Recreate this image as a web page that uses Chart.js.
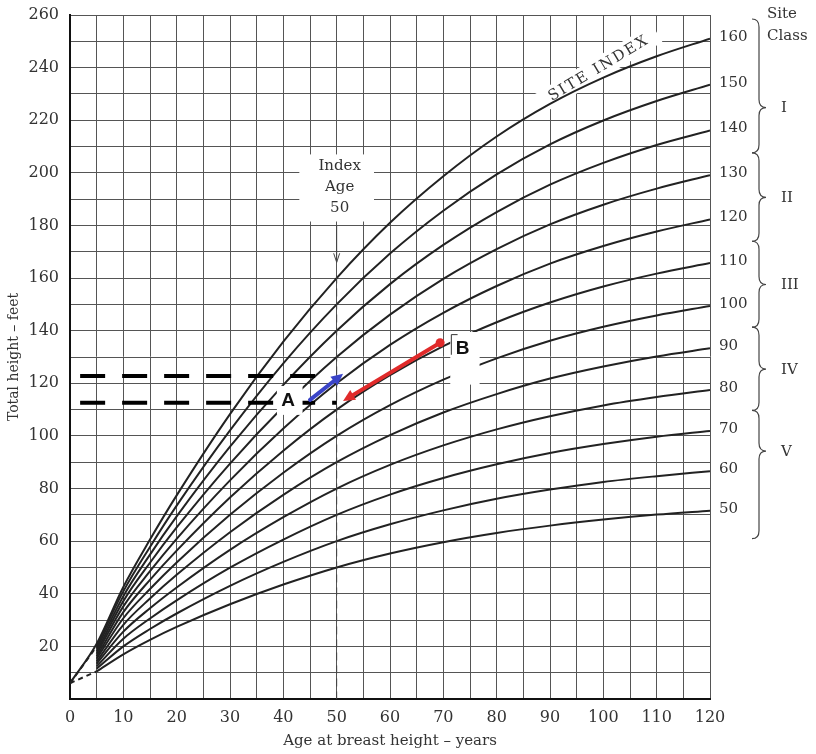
<!DOCTYPE html>
<html>
<head>
<meta charset="utf-8">
<script src="https://cdn.jsdelivr.net/npm/chart.js"></script>
<style>
  html, body { margin: 0; padding: 0; background: #fff; }
  #wrap { width: 816px; height: 754px; position: relative; }
</style>
</head>
<body>
<div id="wrap"><canvas id="siteChart"></canvas></div>
<script>
// ages at breast height (years)
const ages = [0, 5, 10, 15, 20, 30, 40, 50, 60, 70, 80, 90, 100, 110, 120];
// total height (feet) for each site index curve
const si50  = [null, 10.5, 17.0, 22.5, 27.4, 36.0,  43.5,  50,  55.3,  59.6,  63.1,  65.9,  68.2,  70.1,  71.6];
const si60  = [null, 11.5, 20.0, 26.6, 32.5, 43.0,  52.1,  60,  66.4,  71.7,  76.1,  79.6,  82.5,  84.7,  86.6];
const si70  = [null, 12.4, 22.9, 30.6, 37.5, 49.9,  60.6,  70,  77.7,  84.0,  89.2,  93.5,  96.9,  99.7,  101.9];
const si80  = [null, 13.4, 25.6, 34.5, 42.4, 56.7,  69.1,  80,  89.0,  96.4,  102.5, 107.5, 111.6, 114.8, 117.5];
const si90  = [null, 14.3, 28.2, 38.2, 47.2, 63.4,  77.6,  90,  100.3, 108.9, 115.9, 121.8, 126.4, 130.2, 133.3];
const si100 = [null, 15.3, 30.7, 41.8, 51.9, 70.0,  86.0,  100, 111.7, 121.4, 129.5, 136.2, 141.5, 145.8, 149.4];
const si110 = [null, 16.2, 33.0, 45.3, 56.4, 76.6,  94.4,  110, 123.1, 134.1, 143.2, 150.7, 156.8, 161.7, 165.7];
const si120 = [null, 17.2, 35.2, 48.6, 60.9, 83.1,  102.8, 120, 134.6, 146.8, 157.0, 165.5, 172.2, 177.7, 182.3];
const si130 = [null, 18.1, 37.2, 51.8, 65.2, 89.5,  111.1, 130, 146.1, 159.7, 171.0, 180.4, 187.9, 194.0, 199.1];
const si140 = [null, 19.1, 39.1, 54.9, 69.4, 95.9,  119.4, 140, 157.7, 172.6, 185.1, 195.5, 203.8, 210.6, 216.1];
const si150 = [null, 20.0, 40.9, 57.8, 73.5, 102.1, 127.6, 150, 169.3, 185.6, 199.4, 210.8, 219.9, 227.3, 233.5];
const si160 = [6,    21.0, 42.6, 60.6, 77.4, 108.3, 135.8, 160, 181.0, 198.7, 213.8, 226.2, 236.2, 244.3, 251];

const curves = [si50, si60, si70, si80, si90, si100, si110, si120, si130, si140, si150, si160];
const siteIndex = [50, 60, 70, 80, 90, 100, 110, 120, 130, 140, 150, 160];

// dashed lead-in lines from the origin
const dashAges = [0, 5];
const dashLow = [6, 10.5];
const dashHigh = [6, 20];

// site classes (members by site index)
const siteClasses = ['I', 'II', 'III', 'IV', 'V'];
const classMembers = [[160, 150, 140], [130, 120], [110, 100], [90, 80], [70, 60, 50]];

// example points: A (index age line) and B
const lineA1 = 122.8, lineA2 = 112.6;
const pointA = [45, 113.7], arrowA = [51.2, 123.6];
const pointB = [69.4, 135.4], arrowB = [51.2, 113.3];

const SERIF = '"DejaVu Serif", serif';
const pts = (xs, ys) => xs.map((a, i) => ({ x: a, y: ys[i] }));

const datasets = curves.map((c, i) => ({
  label: 'SI ' + siteIndex[i],
  data: pts(ages, c),
  borderColor: '#222',
  borderWidth: 2,
  pointRadius: 0,
  cubicInterpolationMode: 'monotone',
  spanGaps: false
}));
datasets.push({ label: 'lead low', data: pts(dashAges, dashLow), borderColor: '#222', borderWidth: 2, borderDash: [5, 4], pointRadius: 0 });
datasets.push({ label: 'lead high', data: pts(dashAges, dashHigh), borderColor: '#222', borderWidth: 2, borderDash: [5, 4], pointRadius: 0 });

function arrow(ctx, x1, y1, x2, y2, color) {
  const ang = Math.atan2(y2 - y1, x2 - x1);
  ctx.strokeStyle = color; ctx.fillStyle = color;
  ctx.lineWidth = 4; ctx.lineCap = 'round';
  ctx.beginPath(); ctx.moveTo(x1, y1); ctx.lineTo(x2 - 6 * Math.cos(ang), y2 - 6 * Math.sin(ang)); ctx.stroke();
  ctx.beginPath();
  ctx.moveTo(x2, y2);
  ctx.lineTo(x2 - 13 * Math.cos(ang - 0.45), y2 - 13 * Math.sin(ang - 0.45));
  ctx.lineTo(x2 - 13 * Math.cos(ang + 0.45), y2 - 13 * Math.sin(ang + 0.45));
  ctx.closePath(); ctx.fill();
}

function brace(ctx, x, top, bottom, tip) {
  const w = 7;
  ctx.beginPath();
  ctx.moveTo(x - w, top);
  ctx.quadraticCurveTo(x, top, x, top + 8);
  ctx.lineTo(x, tip - 8);
  ctx.quadraticCurveTo(x, tip, x + w, tip);
  ctx.quadraticCurveTo(x, tip, x, tip + 8);
  ctx.lineTo(x, bottom - 8);
  ctx.quadraticCurveTo(x, bottom, x - w, bottom);
  ctx.stroke();
}

// position of the rotated "SITE INDEX" label
function siteLabelPos(x, y) {
  return [x.getPixelForValue(99) + 1, y.getPixelForValue(235.5) - 11];
}

const decor = {
  id: 'decor',
  beforeDatasetsDraw(chart) {
    const { ctx, scales: { x, y } } = chart;
    ctx.save();
    // white box behind "Index Age 50"
    ctx.fillStyle = '#fff';
    const bx1 = x.getPixelForValue(43), bx2 = x.getPixelForValue(57);
    const by1 = y.getPixelForValue(207), by2 = y.getPixelForValue(181.5);
    ctx.fillRect(bx1, by1, bx2 - bx1, by2 - by1);
    // white band behind "SITE INDEX"
    const [sx, sy] = siteLabelPos(x, y);
    ctx.translate(sx, sy);
    ctx.rotate(-0.54);
    ctx.fillRect(-68, -11, 136, 21);
    ctx.restore();
  },
  afterDatasetsDraw(chart) {
    const { ctx, chartArea: ca, scales: { x, y } } = chart;
    ctx.save();
    ctx.fillStyle = '#333';
    ctx.textAlign = 'center';
    ctx.textBaseline = 'middle';
    ctx.font = '15px ' + SERIF;
    const x50 = x.getPixelForValue(50);
    ctx.fillText('Index', x50 + 3, y.getPixelForValue(202.5));
    ctx.fillText('Age', x50 + 3, y.getPixelForValue(194.5));
    ctx.fillText('50', x50 + 3, y.getPixelForValue(186.5));

    // index age marker line
    ctx.strokeStyle = '#444';
    ctx.lineWidth = 1;
    ctx.beginPath();
    ctx.moveTo(x50, y.getPixelForValue(180)); ctx.lineTo(x50, y.getPixelForValue(166)); ctx.stroke();
    ctx.beginPath();
    const ay = y.getPixelForValue(166);
    ctx.moveTo(x50 - 3, ay - 9); ctx.lineTo(x50, ay); ctx.lineTo(x50 + 3, ay - 9); ctx.stroke();
    ctx.setLineDash([8, 5]);
    ctx.beginPath();
    ctx.moveTo(x50, y.getPixelForValue(161)); ctx.lineTo(x50, ca.bottom); ctx.stroke();
    ctx.setLineDash([]);

    // SITE INDEX label
    const [sx, sy] = siteLabelPos(x, y);
    ctx.save();
    ctx.translate(sx, sy);
    ctx.rotate(-0.54);
    ctx.font = '15px ' + SERIF;
    ctx.letterSpacing = '2px';
    ctx.fillStyle = '#333';
    ctx.fillText('SITE INDEX', 0, 0);
    ctx.restore();

    // site index numbers at curve ends
    ctx.textAlign = 'left';
    ctx.font = '15px ' + SERIF;
    const endY = {};
    curves.forEach((c, i) => {
      const py = y.getPixelForValue(c[c.length - 1]);
      endY[siteIndex[i]] = py;
      ctx.fillText(String(siteIndex[i]), ca.right + 9, py - 2);
    });

    // site class braces
    ctx.strokeStyle = '#444';
    ctx.lineWidth = 1.2;
    const bxp = ca.right + 49;
    classMembers.forEach((m, i) => {
      const prev = classMembers[i - 1], next = classMembers[i + 1];
      const topEdge = i === 0 ? ca.top + 4 : (endY[m[0]] + endY[prev[prev.length - 1]]) / 2;
      const botEdge = !next ? endY[m[m.length - 1]] + 28 : (endY[m[m.length - 1]] + endY[next[0]]) / 2;
      let tip;
      if (m.length === 3) tip = i === 0 ? (endY[m[1]] + endY[m[2]]) / 2 : (endY[m[0]] + endY[m[1]]) / 2;
      else tip = (endY[m[0]] + endY[m[1]]) / 2;
      brace(ctx, bxp, topEdge, botEdge, tip);
      ctx.fillStyle = '#333';
      ctx.fillText(siteClasses[i], bxp + 22, tip + 1);
    });
    ctx.fillText('Site', bxp + 8, 14);
    ctx.fillText('Class', bxp + 8, 36);

    // A and B example
    ctx.fillStyle = '#fff';
    const ax1 = x.getPixelForValue(38.8), ax2 = x.getPixelForValue(43.6);
    ctx.fillRect(ax1, y.getPixelForValue(119), ax2 - ax1, y.getPixelForValue(108) - y.getPixelForValue(119));
    const bxa = x.getPixelForValue(71.3), bxb = x.getPixelForValue(76.8);
    ctx.fillRect(bxa, y.getPixelForValue(139.5), bxb - bxa, y.getPixelForValue(119.5) - y.getPixelForValue(139.5));

    ctx.strokeStyle = '#000';
    ctx.lineWidth = 4;
    ctx.lineCap = 'butt';
    ctx.setLineDash([25, 17]);
    ctx.beginPath();
    ctx.moveTo(x.getPixelForValue(1.9), y.getPixelForValue(lineA1));
    ctx.lineTo(x.getPixelForValue(48.5), y.getPixelForValue(lineA1));
    ctx.stroke();
    ctx.beginPath();
    ctx.moveTo(x.getPixelForValue(1.9), y.getPixelForValue(lineA2));
    ctx.lineTo(x.getPixelForValue(50), y.getPixelForValue(lineA2));
    ctx.stroke();
    ctx.setLineDash([]);

    ctx.fillStyle = '#fff';
    ctx.fillRect(ax1, y.getPixelForValue(117), ax2 - ax1, y.getPixelForValue(110) - y.getPixelForValue(117));

    arrow(ctx, x.getPixelForValue(pointA[0]), y.getPixelForValue(pointA[1]), x.getPixelForValue(arrowA[0]), y.getPixelForValue(arrowA[1]), '#3a44c8');
    arrow(ctx, x.getPixelForValue(pointB[0]), y.getPixelForValue(pointB[1]), x.getPixelForValue(arrowB[0]), y.getPixelForValue(arrowB[1]), '#e02a2a');
    ctx.fillStyle = '#e02a2a';
    ctx.beginPath();
    ctx.arc(x.getPixelForValue(pointB[0]), y.getPixelForValue(pointB[1]), 4.5, 0, Math.PI * 2);
    ctx.fill();

    ctx.fillStyle = '#111';
    ctx.font = 'bold 19px "Liberation Sans", sans-serif';
    ctx.textAlign = 'center';
    ctx.fillText('A', x.getPixelForValue(40.9), y.getPixelForValue(113.5));
    ctx.fillText('B', x.getPixelForValue(73.6), y.getPixelForValue(133));
    ctx.strokeStyle = '#333';
    ctx.lineWidth = 1;
    ctx.beginPath();
    ctx.moveTo(x.getPixelForValue(71.5), y.getPixelForValue(131));
    ctx.lineTo(x.getPixelForValue(71.5), y.getPixelForValue(138.5));
    ctx.lineTo(x.getPixelForValue(72.6), y.getPixelForValue(138.5));
    ctx.stroke();
    ctx.restore();
  }
};

new Chart(document.getElementById('siteChart'), {
  type: 'line',
  data: { datasets: datasets },
  options: {
    responsive: true,
    maintainAspectRatio: false,
    animation: false,
    layout: { padding: { top: 15, right: 106, bottom: 0, left: 0 } },
    plugins: { legend: { display: false }, tooltip: { enabled: false } },
    scales: {
      x: {
        type: 'linear', min: 0, max: 120,
        afterFit: s => { s.height = 55; s.paddingLeft = 0; s.paddingRight = 0; },
        border: { color: '#111', width: 2 },
        grid: { color: '#555', lineWidth: 1, drawTicks: false },
        ticks: {
          stepSize: 5, autoSkip: false, maxRotation: 0, padding: 9,
          color: '#333', font: { family: SERIF, size: 16 },
          callback: v => (v % 10 === 0 ? String(v) : '')
        },
        title: { display: true, text: 'Age at breast height – years', color: '#333', font: { family: SERIF, size: 15 }, padding: { top: 2, bottom: 4 } }
      },
      y: {
        type: 'linear', min: 0, max: 260,
        afterFit: s => { s.width = 70; s.paddingTop = 0; s.paddingBottom = 0; },
        border: { color: '#111', width: 2 },
        grid: { color: '#555', lineWidth: 1, drawTicks: false },
        ticks: {
          stepSize: 10, autoSkip: false, padding: 11,
          color: '#333', font: { family: SERIF, size: 16 },
          callback: v => (v % 20 === 0 && v !== 0 ? String(v) : '')
        },
        title: { display: true, text: 'Total height – feet', color: '#333', font: { family: SERIF, size: 14 }, padding: { top: 6, bottom: 0 } }
      }
    }
  },
  plugins: [decor]
});
</script>
</body>
</html>
